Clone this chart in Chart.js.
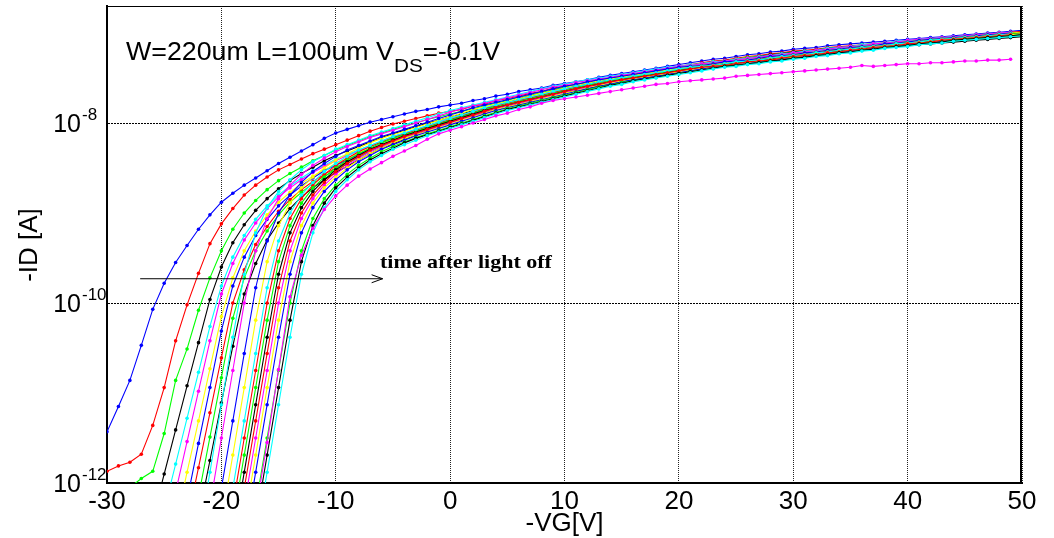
<!DOCTYPE html>
<html>
<head>
<meta charset="utf-8">
<title>-ID vs -VG after light off</title>
<script src="https://cdn.jsdelivr.net/npm/chart.js@4.4.1/dist/chart.umd.min.js"></script>
<style>
  html, body { margin: 0; padding: 0; background: #ffffff; }
  #box { width: 1054px; height: 538px; }
</style>
</head>
<body>
<div id="box"><canvas id="transfer" width="1054" height="538"></canvas></div>
<script>
// gate sweep (-VG), 1 V steps
const vgSweep = [-30, -29, -28, -27, -26, -25, -24, -23, -22, -21, -20, -19, -18, -17, -16, -15, -14, -13, -12, -11,
  -10, -9, -8, -7, -6, -5, -4, -3, -2, -1, 0, 1, 2, 3, 4, 5, 6, 7, 8, 9, 10, 11, 12, 13, 14, 15, 16, 17, 18, 19,
  20, 21, 22, 23, 24, 25, 26, 27, 28, 29, 30, 31, 32, 33, 34, 35, 36, 37, 38, 39, 40, 41, 42, 43, 44, 45, 46, 47, 48, 49, 50];

// first -VG of each sweep that is kept (lower points are under the noise floor)
const vgStart = [-30, -30, -28, -26, -25, -24, -24, -23, -23, -22, -22, -22, -21, -20, -20, -19, -19, -19, -19,
  -18, -18, -18, -18, -17, -17, -17, -17, -16];

// log10(-ID) per sweep, in order of time after light off
const t01 = [-11.43, -11.15, -10.86, -10.47, -10.07, -9.78, -9.55, -9.36, -9.18, -9.02,
  -8.88, -8.78, -8.69, -8.61, -8.53, -8.45, -8.38, -8.31, -8.24, -8.17,
  -8.11, -8.07, -8.03, -7.99, -7.96, -7.93, -7.90, -7.87, -7.85, -7.82,
  -7.80, -7.78, -7.75, -7.73, -7.70, -7.68, -7.65, -7.63, -7.61, -7.58,
  -7.56, -7.54, -7.52, -7.49, -7.47, -7.45, -7.43, -7.41, -7.39, -7.37,
  -7.35, -7.33, -7.31, -7.29, -7.28, -7.26, -7.24, -7.23, -7.21, -7.20,
  -7.18, -7.17, -7.16, -7.14, -7.13, -7.12, -7.11, -7.10, -7.09, -7.08,
  -7.07, -7.06, -7.05, -7.04, -7.03, -7.02, -7.01, -7.00, -6.99, -6.98, -6.97];
const t02 = [-11.87, -11.81, -11.77, -11.68, -11.36, -10.94, -10.42, -10.02, -9.67, -9.34,
  -9.12, -8.95, -8.80, -8.69, -8.60, -8.52, -8.46, -8.40, -8.34, -8.29,
  -8.24, -8.19, -8.14, -8.09, -8.05, -8.01, -7.98, -7.95, -7.92, -7.89,
  -7.87, -7.85, -7.81, -7.79, -7.75, -7.73, -7.70, -7.67, -7.65, -7.61,
  -7.59, -7.57, -7.55, -7.52, -7.50, -7.48, -7.46, -7.43, -7.41, -7.39,
  -7.37, -7.35, -7.33, -7.31, -7.30, -7.28, -7.26, -7.25, -7.23, -7.22,
  -7.20, -7.19, -7.18, -7.16, -7.15, -7.14, -7.13, -7.12, -7.11, -7.10,
  -7.09, -7.08, -7.07, -7.06, -7.05, -7.04, -7.02, -7.01, -7.00, -6.99, -6.98];
const t03 = [-12.05, -11.95, -11.87, -11.45, -10.86, -10.51, -10.08, -9.72,
  -9.42, -9.18, -9.00, -8.86, -8.74, -8.64, -8.56, -8.49, -8.42, -8.36,
  -8.30, -8.25, -8.20, -8.15, -8.11, -8.07, -8.03, -8.00, -7.96, -7.93,
  -7.90, -7.87, -7.84, -7.81, -7.78, -7.75, -7.71, -7.69, -7.66, -7.63,
  -7.60, -7.58, -7.56, -7.53, -7.51, -7.49, -7.47, -7.44, -7.42, -7.40,
  -7.38, -7.36, -7.34, -7.32, -7.31, -7.29, -7.27, -7.26, -7.24, -7.23,
  -7.21, -7.20, -7.19, -7.17, -7.16, -7.15, -7.13, -7.12, -7.11, -7.10,
  -7.09, -7.08, -7.07, -7.06, -7.05, -7.04, -7.03, -7.02, -7.01, -7.00, -6.99];
const t04 = [-12.40, -11.90, -11.41, -10.92, -10.44, -9.96,
  -9.60, -9.33, -9.13, -8.97, -8.84, -8.73, -8.64, -8.56, -8.49, -8.42,
  -8.36, -8.31, -8.26, -8.21, -8.16, -8.12, -8.08, -8.04, -8.00, -7.97,
  -7.93, -7.90, -7.86, -7.84, -7.80, -7.77, -7.73, -7.70, -7.68, -7.64,
  -7.61, -7.59, -7.57, -7.54, -7.52, -7.50, -7.48, -7.45, -7.43, -7.41,
  -7.39, -7.37, -7.35, -7.33, -7.32, -7.30, -7.28, -7.26, -7.24, -7.23,
  -7.21, -7.20, -7.19, -7.17, -7.16, -7.15, -7.14, -7.13, -7.12, -7.11,
  -7.10, -7.09, -7.08, -7.07, -7.06, -7.05, -7.03, -7.02, -7.01, -7.00, -6.99];
const t05 = [-12.30, -11.79, -11.28, -10.77, -10.26,
  -9.81, -9.49, -9.25, -9.07, -8.92, -8.80, -8.70, -8.61, -8.53, -8.47,
  -8.40, -8.35, -8.30, -8.25, -8.20, -8.15, -8.11, -8.07, -8.03, -7.98,
  -7.94, -7.91, -7.88, -7.85, -7.81, -7.78, -7.74, -7.71, -7.68, -7.65,
  -7.62, -7.60, -7.58, -7.55, -7.53, -7.51, -7.48, -7.46, -7.44, -7.42,
  -7.39, -7.37, -7.35, -7.33, -7.32, -7.30, -7.28, -7.27, -7.25, -7.24,
  -7.22, -7.21, -7.20, -7.18, -7.17, -7.16, -7.14, -7.13, -7.12, -7.11,
  -7.10, -7.09, -7.08, -7.07, -7.06, -7.05, -7.04, -7.03, -7.02, -7.01, -7.00];
const t06 = [-12.10, -11.54, -10.98, -10.42,
  -9.90, -9.56, -9.30, -9.11, -8.95, -8.82, -8.72, -8.63, -8.55, -8.48,
  -8.42, -8.36, -8.31, -8.26, -8.21, -8.16, -8.12, -8.08, -8.04, -7.99,
  -7.95, -7.92, -7.89, -7.86, -7.82, -7.79, -7.75, -7.72, -7.69, -7.66,
  -7.63, -7.61, -7.59, -7.56, -7.54, -7.52, -7.49, -7.47, -7.45, -7.43,
  -7.40, -7.38, -7.36, -7.34, -7.33, -7.31, -7.29, -7.28, -7.26, -7.25,
  -7.23, -7.22, -7.21, -7.19, -7.18, -7.17, -7.15, -7.14, -7.13, -7.12,
  -7.11, -7.10, -7.09, -7.08, -7.07, -7.06, -7.05, -7.04, -7.03, -7.02, -7.01];
const t07 = [-12.47, -11.88, -11.31, -10.73,
  -10.15, -9.72, -9.42, -9.20, -9.02, -8.88, -8.77, -8.67, -8.59, -8.52,
  -8.45, -8.39, -8.33, -8.28, -8.23, -8.18, -8.13, -8.09, -8.05, -8.00,
  -7.96, -7.93, -7.90, -7.87, -7.83, -7.80, -7.76, -7.73, -7.70, -7.67,
  -7.64, -7.62, -7.60, -7.57, -7.55, -7.53, -7.50, -7.48, -7.46, -7.44,
  -7.41, -7.39, -7.37, -7.35, -7.34, -7.32, -7.30, -7.29, -7.27, -7.26,
  -7.24, -7.23, -7.22, -7.20, -7.19, -7.18, -7.16, -7.15, -7.14, -7.13,
  -7.12, -7.11, -7.10, -7.09, -7.08, -7.07, -7.06, -7.05, -7.04, -7.03, -7.02];
const t08 = [-12.19, -11.56, -10.94,
  -10.31, -9.81, -9.49, -9.25, -9.07, -8.92, -8.80, -8.70, -8.61, -8.53,
  -8.47, -8.41, -8.35, -8.29, -8.24, -8.19, -8.14, -8.10, -8.06, -8.01,
  -7.97, -7.93, -7.90, -7.87, -7.83, -7.80, -7.76, -7.73, -7.70, -7.67,
  -7.64, -7.62, -7.60, -7.57, -7.55, -7.53, -7.50, -7.48, -7.46, -7.44,
  -7.41, -7.39, -7.37, -7.35, -7.34, -7.32, -7.30, -7.29, -7.27, -7.26,
  -7.24, -7.23, -7.22, -7.20, -7.19, -7.18, -7.16, -7.15, -7.14, -7.13,
  -7.12, -7.11, -7.10, -7.09, -7.08, -7.07, -7.06, -7.05, -7.04, -7.03, -7.02];
const t09 = [-12.44, -11.83, -11.22,
  -10.61, -10.00, -9.63, -9.35, -9.15, -8.98, -8.85, -8.74, -8.65, -8.57,
  -8.50, -8.43, -8.37, -8.31, -8.25, -8.20, -8.15, -8.11, -8.06, -8.02,
  -7.98, -7.94, -7.91, -7.88, -7.84, -7.81, -7.77, -7.74, -7.71, -7.68,
  -7.65, -7.63, -7.61, -7.58, -7.56, -7.54, -7.51, -7.49, -7.47, -7.45,
  -7.42, -7.40, -7.38, -7.36, -7.35, -7.33, -7.31, -7.30, -7.28, -7.27,
  -7.25, -7.24, -7.23, -7.21, -7.20, -7.19, -7.17, -7.16, -7.15, -7.14,
  -7.13, -7.12, -7.11, -7.10, -7.09, -7.08, -7.07, -7.06, -7.05, -7.04, -7.03];
const t10 = [-12.15, -11.49,
  -10.83, -10.17, -9.72, -9.42, -9.20, -9.02, -8.88, -8.77, -8.67, -8.59,
  -8.52, -8.45, -8.38, -8.32, -8.26, -8.21, -8.16, -8.12, -8.07, -8.03,
  -7.99, -7.94, -7.91, -7.88, -7.84, -7.81, -7.77, -7.74, -7.71, -7.68,
  -7.65, -7.63, -7.61, -7.58, -7.56, -7.54, -7.51, -7.49, -7.47, -7.45,
  -7.42, -7.40, -7.38, -7.36, -7.35, -7.33, -7.31, -7.30, -7.28, -7.27,
  -7.25, -7.24, -7.23, -7.21, -7.20, -7.19, -7.17, -7.16, -7.15, -7.14,
  -7.13, -7.12, -7.11, -7.10, -7.09, -7.08, -7.07, -7.06, -7.05, -7.04, -7.03];
const t11 = [-12.38, -11.75,
  -11.11, -10.48, -9.90, -9.56, -9.30, -9.11, -8.95, -8.82, -8.72, -8.63,
  -8.55, -8.48, -8.41, -8.34, -8.28, -8.23, -8.18, -8.13, -8.08, -8.04,
  -8.00, -7.95, -7.92, -7.89, -7.85, -7.82, -7.78, -7.75, -7.72, -7.69,
  -7.66, -7.64, -7.62, -7.59, -7.57, -7.55, -7.52, -7.50, -7.48, -7.46,
  -7.43, -7.41, -7.39, -7.37, -7.36, -7.34, -7.32, -7.31, -7.29, -7.28,
  -7.26, -7.25, -7.24, -7.22, -7.21, -7.20, -7.18, -7.17, -7.16, -7.15,
  -7.14, -7.13, -7.12, -7.11, -7.10, -7.09, -7.08, -7.07, -7.06, -7.05, -7.04];
const t12 = [-12.63, -11.88, -11.13, -10.38, -9.68, -9.22, -8.94, -8.76, -8.63, -8.52,
  -8.43, -8.36, -8.29, -8.24, -8.19, -8.14, -8.10, -8.06, -8.02, -7.98,
  -7.94, -7.90, -7.86, -7.83, -7.80, -7.77, -7.74, -7.71, -7.68, -7.65,
  -7.62, -7.59, -7.57, -7.54, -7.52, -7.50, -7.48, -7.46, -7.44, -7.42,
  -7.40, -7.38, -7.37, -7.35, -7.34, -7.32, -7.31, -7.29, -7.28, -7.26,
  -7.25, -7.23, -7.22, -7.20, -7.19, -7.17, -7.16, -7.15, -7.13, -7.12,
  -7.11, -7.09, -7.08, -7.07, -7.06, -7.05, -7.04, -7.03, -7.02, -7.01, -7.00, -6.99];
const t13 = [-12.25, -11.50, -10.75, -10.00, -9.42, -9.06, -8.84, -8.69, -8.57, -8.47,
  -8.39, -8.32, -8.26, -8.21, -8.16, -8.12, -8.08, -8.04, -8.00, -7.96,
  -7.92, -7.88, -7.84, -7.81, -7.78, -7.75, -7.72, -7.69, -7.66, -7.63,
  -7.60, -7.58, -7.55, -7.53, -7.51, -7.49, -7.47, -7.45, -7.43, -7.41,
  -7.39, -7.37, -7.36, -7.34, -7.33, -7.31, -7.30, -7.28, -7.27, -7.25,
  -7.24, -7.22, -7.21, -7.19, -7.18, -7.16, -7.15, -7.14, -7.12, -7.11,
  -7.10, -7.08, -7.07, -7.06, -7.05, -7.04, -7.03, -7.02, -7.01, -7.00, -6.99];
const t14 = [-12.44, -11.69, -10.94, -10.19, -9.54, -9.14, -8.89, -8.72, -8.60, -8.50,
  -8.41, -8.34, -8.28, -8.22, -8.17, -8.13, -8.09, -8.05, -8.01, -7.97,
  -7.93, -7.89, -7.85, -7.82, -7.79, -7.76, -7.73, -7.70, -7.67, -7.64,
  -7.61, -7.58, -7.56, -7.53, -7.51, -7.49, -7.47, -7.45, -7.43, -7.41,
  -7.39, -7.37, -7.36, -7.34, -7.33, -7.31, -7.30, -7.28, -7.27, -7.25,
  -7.24, -7.22, -7.21, -7.19, -7.18, -7.16, -7.15, -7.14, -7.12, -7.11,
  -7.10, -7.08, -7.07, -7.06, -7.05, -7.04, -7.03, -7.02, -7.01, -7.00, -6.99];
const t15 = [-12.06, -11.31, -10.56, -9.83, -9.31, -9.00, -8.80, -8.66, -8.54, -8.45,
  -8.37, -8.30, -8.25, -8.20, -8.15, -8.11, -8.07, -8.03, -7.99, -7.95,
  -7.91, -7.87, -7.83, -7.80, -7.77, -7.74, -7.71, -7.68, -7.65, -7.62,
  -7.59, -7.57, -7.54, -7.52, -7.50, -7.48, -7.46, -7.44, -7.42, -7.40,
  -7.38, -7.37, -7.36, -7.34, -7.32, -7.31, -7.30, -7.28, -7.26, -7.25,
  -7.24, -7.22, -7.21, -7.19, -7.18, -7.16, -7.15, -7.14, -7.12, -7.11,
  -7.10, -7.08, -7.07, -7.06, -7.05, -7.04, -7.03, -7.02, -7.01, -7.00];
const t16 = [-12.25, -11.50, -10.75, -10.00, -9.42, -9.06, -8.84, -8.69, -8.57, -8.47,
  -8.39, -8.32, -8.26, -8.21, -8.16, -8.12, -8.08, -8.04, -8.00, -7.96,
  -7.92, -7.88, -7.84, -7.81, -7.78, -7.75, -7.72, -7.69, -7.66, -7.63,
  -7.60, -7.58, -7.55, -7.53, -7.51, -7.49, -7.47, -7.45, -7.43, -7.41,
  -7.39, -7.37, -7.36, -7.34, -7.33, -7.31, -7.30, -7.28, -7.27, -7.25,
  -7.24, -7.22, -7.21, -7.19, -7.18, -7.16, -7.15, -7.14, -7.12, -7.11,
  -7.10, -7.08, -7.07, -7.06, -7.05, -7.04, -7.03, -7.02, -7.01, -7.00];
const t17 = [-12.44, -11.69, -10.94, -10.19, -9.54, -9.14, -8.89, -8.72, -8.60, -8.50,
  -8.41, -8.34, -8.28, -8.22, -8.17, -8.13, -8.09, -8.05, -8.01, -7.97,
  -7.93, -7.89, -7.85, -7.82, -7.79, -7.76, -7.73, -7.70, -7.67, -7.64,
  -7.61, -7.58, -7.56, -7.53, -7.51, -7.49, -7.47, -7.45, -7.43, -7.41,
  -7.39, -7.37, -7.36, -7.34, -7.33, -7.31, -7.30, -7.28, -7.27, -7.25,
  -7.24, -7.22, -7.21, -7.19, -7.18, -7.16, -7.15, -7.14, -7.12, -7.11,
  -7.10, -7.08, -7.07, -7.06, -7.05, -7.04, -7.03, -7.02, -7.01, -7.00];
const t18 = [-12.63, -11.88, -11.13, -10.38, -9.68, -9.22, -8.94, -8.76, -8.63, -8.52,
  -8.43, -8.36, -8.29, -8.24, -8.19, -8.14, -8.10, -8.06, -8.02, -7.98,
  -7.94, -7.90, -7.86, -7.83, -7.80, -7.77, -7.74, -7.71, -7.68, -7.65,
  -7.62, -7.59, -7.57, -7.54, -7.52, -7.50, -7.48, -7.46, -7.44, -7.42,
  -7.40, -7.38, -7.37, -7.35, -7.34, -7.32, -7.31, -7.29, -7.28, -7.26,
  -7.25, -7.23, -7.22, -7.20, -7.19, -7.17, -7.16, -7.15, -7.13, -7.12,
  -7.11, -7.09, -7.08, -7.07, -7.06, -7.05, -7.04, -7.03, -7.02, -7.01];
const t19 = [-12.06, -11.31, -10.56, -9.83, -9.31, -9.00, -8.80, -8.66, -8.54, -8.45,
  -8.37, -8.30, -8.25, -8.20, -8.15, -8.11, -8.07, -8.03, -7.99, -7.95,
  -7.91, -7.87, -7.83, -7.80, -7.77, -7.74, -7.71, -7.68, -7.65, -7.62,
  -7.59, -7.57, -7.54, -7.52, -7.50, -7.48, -7.46, -7.44, -7.42, -7.40,
  -7.38, -7.37, -7.36, -7.34, -7.32, -7.31, -7.30, -7.28, -7.26, -7.25,
  -7.24, -7.22, -7.21, -7.19, -7.18, -7.16, -7.15, -7.14, -7.12, -7.11,
  -7.10, -7.08, -7.07, -7.06, -7.05, -7.04, -7.03, -7.02, -7.01];
const t20 = [-12.25, -11.50, -10.75, -10.00, -9.42, -9.06, -8.84, -8.69, -8.57, -8.47,
  -8.39, -8.32, -8.26, -8.21, -8.16, -8.12, -8.08, -8.04, -8.00, -7.96,
  -7.92, -7.88, -7.84, -7.81, -7.78, -7.75, -7.72, -7.69, -7.66, -7.63,
  -7.60, -7.58, -7.55, -7.53, -7.51, -7.49, -7.47, -7.45, -7.43, -7.41,
  -7.39, -7.37, -7.36, -7.34, -7.33, -7.31, -7.30, -7.28, -7.27, -7.25,
  -7.24, -7.22, -7.21, -7.19, -7.18, -7.16, -7.15, -7.14, -7.12, -7.11,
  -7.10, -7.08, -7.07, -7.06, -7.05, -7.04, -7.03, -7.02, -7.01];
const t21 = [-12.44, -11.69, -10.94, -10.19, -9.54, -9.14, -8.89, -8.72, -8.60, -8.50,
  -8.41, -8.34, -8.28, -8.22, -8.17, -8.13, -8.09, -8.05, -8.01, -7.97,
  -7.93, -7.89, -7.85, -7.82, -7.79, -7.76, -7.73, -7.70, -7.67, -7.64,
  -7.61, -7.58, -7.56, -7.53, -7.51, -7.49, -7.47, -7.45, -7.43, -7.41,
  -7.39, -7.37, -7.36, -7.34, -7.33, -7.31, -7.30, -7.28, -7.27, -7.25,
  -7.24, -7.22, -7.21, -7.19, -7.18, -7.16, -7.15, -7.14, -7.12, -7.11,
  -7.10, -7.08, -7.07, -7.06, -7.05, -7.04, -7.03, -7.02, -7.01];
const t22 = [-12.63, -11.88, -11.13, -10.38, -9.68, -9.22, -8.94, -8.76, -8.63, -8.52,
  -8.43, -8.36, -8.29, -8.24, -8.19, -8.14, -8.10, -8.06, -8.02, -7.98,
  -7.94, -7.90, -7.86, -7.83, -7.80, -7.77, -7.74, -7.71, -7.68, -7.65,
  -7.62, -7.59, -7.57, -7.54, -7.52, -7.50, -7.48, -7.46, -7.44, -7.42,
  -7.40, -7.38, -7.37, -7.35, -7.34, -7.32, -7.31, -7.29, -7.28, -7.26,
  -7.25, -7.23, -7.22, -7.20, -7.19, -7.17, -7.16, -7.15, -7.13, -7.12,
  -7.11, -7.09, -7.08, -7.07, -7.06, -7.05, -7.04, -7.03, -7.02];
const t23 = [-12.06, -11.31, -10.56, -9.83, -9.31, -9.00, -8.80, -8.66, -8.54, -8.45,
  -8.37, -8.30, -8.25, -8.20, -8.15, -8.11, -8.07, -8.03, -7.99, -7.95,
  -7.91, -7.87, -7.83, -7.80, -7.77, -7.74, -7.71, -7.68, -7.65, -7.62,
  -7.59, -7.57, -7.54, -7.52, -7.50, -7.48, -7.46, -7.44, -7.42, -7.40,
  -7.38, -7.37, -7.36, -7.34, -7.32, -7.31, -7.30, -7.28, -7.26, -7.25,
  -7.24, -7.22, -7.21, -7.19, -7.18, -7.16, -7.15, -7.14, -7.12, -7.11,
  -7.10, -7.08, -7.07, -7.06, -7.05, -7.04, -7.03, -7.02];
const t24 = [-12.25, -11.50, -10.75, -10.00, -9.42, -9.06, -8.84, -8.69, -8.57, -8.47,
  -8.39, -8.32, -8.26, -8.21, -8.16, -8.12, -8.08, -8.04, -8.00, -7.96,
  -7.92, -7.88, -7.84, -7.81, -7.78, -7.75, -7.72, -7.69, -7.66, -7.63,
  -7.60, -7.58, -7.55, -7.53, -7.51, -7.49, -7.47, -7.45, -7.43, -7.41,
  -7.39, -7.37, -7.36, -7.34, -7.33, -7.31, -7.30, -7.28, -7.27, -7.25,
  -7.24, -7.22, -7.21, -7.19, -7.18, -7.16, -7.15, -7.14, -7.12, -7.11,
  -7.10, -7.08, -7.07, -7.06, -7.05, -7.04, -7.03, -7.02];
const t25 = [-12.44, -11.69, -10.94, -10.19, -9.54, -9.14, -8.89, -8.72, -8.60, -8.50,
  -8.41, -8.34, -8.28, -8.22, -8.17, -8.13, -8.09, -8.05, -8.01, -7.97,
  -7.93, -7.89, -7.85, -7.82, -7.79, -7.76, -7.73, -7.70, -7.67, -7.64,
  -7.61, -7.58, -7.56, -7.53, -7.51, -7.49, -7.47, -7.45, -7.43, -7.41,
  -7.39, -7.37, -7.36, -7.34, -7.33, -7.31, -7.30, -7.28, -7.27, -7.25,
  -7.24, -7.22, -7.21, -7.19, -7.18, -7.16, -7.15, -7.14, -7.12, -7.11,
  -7.10, -7.08, -7.07, -7.06, -7.05, -7.04, -7.03, -7.02];
const t26 = [-12.63, -11.88, -11.13, -10.38, -9.68, -9.22, -8.94, -8.76, -8.63, -8.52,
  -8.43, -8.36, -8.29, -8.24, -8.19, -8.14, -8.10, -8.06, -8.02, -7.98,
  -7.94, -7.90, -7.86, -7.83, -7.80, -7.77, -7.74, -7.71, -7.68, -7.65,
  -7.62, -7.59, -7.57, -7.54, -7.52, -7.50, -7.48, -7.46, -7.44, -7.42,
  -7.40, -7.38, -7.37, -7.35, -7.34, -7.32, -7.31, -7.29, -7.28, -7.26,
  -7.25, -7.23, -7.22, -7.20, -7.19, -7.17, -7.16, -7.15, -7.13, -7.12,
  -7.11, -7.09, -7.08, -7.07, -7.06, -7.05, -7.04, -7.03];
const t27 = [-12.32, -11.55, -10.74, -9.93, -9.47, -9.17, -8.96, -8.81, -8.69, -8.59,
  -8.51, -8.44, -8.37, -8.31, -8.25, -8.18, -8.12, -8.08, -8.04, -8.00,
  -7.96, -7.92, -7.89, -7.85, -7.82, -7.78, -7.75, -7.73, -7.71, -7.69,
  -7.67, -7.65, -7.63, -7.61, -7.59, -7.57, -7.56, -7.54, -7.53, -7.52,
  -7.51, -7.50, -7.48, -7.47, -7.46, -7.45, -7.44, -7.43, -7.42, -7.41,
  -7.40, -7.39, -7.38, -7.36, -7.37, -7.36, -7.35, -7.34, -7.34, -7.33,
  -7.33, -7.32, -7.31, -7.31, -7.30, -7.30, -7.29];

const sweeps = [t01, t02, t03, t04, t05, t06, t07, t08, t09, t10, t11, t12, t13, t14,
  t15, t16, t17, t18, t19, t20, t21, t22, t23, t24, t25, t26, t27];

// decades that get a label on the current axis
const yTickExp = [-12, -10, -8];

// MATLAB style colour cycle b r g k c m y
const colorCycle = ['#0000ff', '#ff0000', '#00ff00', '#000000', '#00ffff', '#ff00ff', '#ffff00'];

const fontSans = '"Liberation Sans", Arial, Helvetica, sans-serif';
const fontSerif = '"Liberation Serif", "Times New Roman", serif';

const datasets = sweeps.map((vals, i) => {
  const first = vgSweep.indexOf(vgStart[i]);
  const col = colorCycle[i % colorCycle.length];
  return {
    label: 't' + (i + 1),
    data: vals.map((v, k) => ({ x: vgSweep[first + k], y: Math.pow(10, v) })),
    borderColor: col,
    backgroundColor: col,
    pointBackgroundColor: col,
    borderWidth: 1.1,
    pointRadius: 1.8,
    pointBorderWidth: 0,
    pointHoverRadius: 0,
    tension: 0,
    fill: false,
    order: sweeps.length - i
  };
});

// stretched text, the figure text is wider than the plain font
function wideText(ctx, text, x, y, sx) {
  ctx.save();
  ctx.translate(x, y);
  ctx.scale(sx, 1);
  ctx.fillText(text, 0, 0);
  ctx.restore();
  return ctx.measureText(text).width * sx;
}

// box, decade labels, axis label and the annotation arrow
const decorations = {
  id: 'decorations',
  afterDraw(chart) {
    const { ctx, chartArea: area } = chart;
    const xs = chart.scales.x;
    const ys = chart.scales.y;
    ctx.save();

    ctx.strokeStyle = '#000';
    ctx.lineWidth = 1;
    ctx.beginPath();
    ctx.moveTo(area.left, area.top + 0.5);
    ctx.lineTo(area.right, area.top + 0.5);
    ctx.stroke();
    ctx.lineWidth = 2;
    ctx.beginPath();
    ctx.moveTo(area.right - 1, area.top);
    ctx.lineTo(area.right - 1, area.bottom);
    ctx.stroke();

    ctx.fillStyle = '#000';
    ctx.textBaseline = 'alphabetic';
    yTickExp.forEach(e => {
      const py = ys.getPixelForValue(Math.pow(10, e));
      ctx.font = '25px ' + fontSans;
      ctx.textAlign = 'right';
      ctx.fillText('10', 81, py + 9);
      ctx.font = '17px ' + fontSans;
      ctx.textAlign = 'left';
      ctx.fillText(String(e), 82, py - 3);
    });

    // current axis label
    ctx.save();
    ctx.translate(37, 245);
    ctx.rotate(-Math.PI / 2);
    ctx.font = '26px ' + fontSans;
    ctx.textAlign = 'center';
    ctx.fillText('-ID [A]', 0, 0);
    ctx.restore();

    // bias conditions
    ctx.textAlign = 'left';
    let tx = 126;
    ctx.font = '26px ' + fontSans;
    tx += wideText(ctx, 'W=220um L=100um V', tx, 60, 1.03);
    ctx.font = '18px ' + fontSans;
    tx += wideText(ctx, 'DS', tx, 72, 1.15);
    ctx.font = '26px ' + fontSans;
    wideText(ctx, '=-0.1V', tx, 60, 1.0);

    // arrow: time after light off
    const ay = ys.getPixelForValue(Math.pow(10, -9.73));
    const ax0 = xs.getPixelForValue(-27.1);
    const ax1 = xs.getPixelForValue(-5.9);
    ctx.lineWidth = 1;
    ctx.beginPath();
    ctx.moveTo(ax0, ay);
    ctx.lineTo(ax1, ay);
    ctx.moveTo(ax1 - 11, ay - 4);
    ctx.lineTo(ax1, ay);
    ctx.lineTo(ax1 - 11, ay + 4);
    ctx.stroke();
    ctx.font = 'bold 19px ' + fontSerif;
    wideText(ctx, 'time after light off', 380, 268, 1.16);

    ctx.restore();
  }
};

new Chart(document.getElementById('transfer'), {
  type: 'line',
  data: { datasets: datasets },
  options: {
    responsive: false,
    animation: false,
    events: [],
    devicePixelRatio: 1,
    layout: { padding: { left: 107, right: 32, top: 6, bottom: 0 } },
    plugins: {
      legend: { display: false },
      tooltip: { enabled: false }
    },
    scales: {
      x: {
        type: 'linear',
        min: -30,
        max: 50,
        afterFit: scale => { scale.height = 55; },
        ticks: {
          stepSize: 10,
          color: '#000',
          padding: 6,
          font: { family: fontSans, size: 26, lineHeight: 1 }
        },
        grid: { color: '#222', lineWidth: 1, drawTicks: false },
        border: { display: true, color: '#000', width: 2, dash: [1, 1] },
        title: {
          display: true,
          text: '-VG[V]',
          color: '#000',
          font: { family: fontSans, size: 26, lineHeight: 1 },
          padding: { top: 0, bottom: 1 }
        }
      },
      y: {
        type: 'logarithmic',
        min: 1e-12,
        max: 2e-7,
        afterBuildTicks: scale => {
          scale.ticks = yTickExp.map(e => ({ value: Math.pow(10, e) }));
        },
        ticks: { display: false },
        grid: { color: '#000', lineWidth: 1, drawTicks: false },
        border: { display: true, color: '#000', width: 2, dash: [2, 1] }
      }
    }
  },
  plugins: [decorations]
});
</script>
</body>
</html>
